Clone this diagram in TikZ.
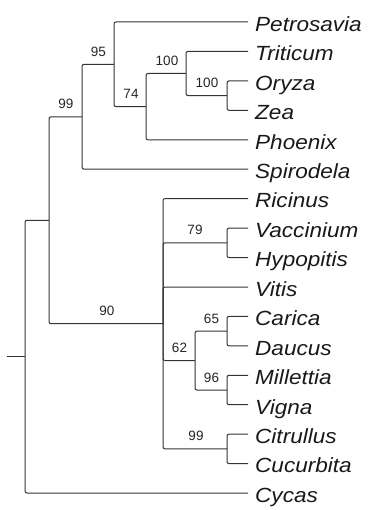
\documentclass[tikz,border=0pt]{standalone}
\usepackage{fontspec}
\setmainfont{Liberation Sans}
\newfontfamily\tipfont[FakeStretch=1.1]{Liberation Sans}
\begin{document}
\begin{tikzpicture}[x=1pt,y=-1pt,
  br/.style={draw=black!80, line width=1pt, rounded corners=2pt},
  tiplab/.style={anchor=west, inner xsep=7pt, inner ysep=0pt, text depth=5pt, text height=23.6pt,
     font=\tipfont\itshape\fontsize{20.5}{24}\selectfont, text=black!90},
  bs/.style={anchor=base, inner sep=0pt, font=\fontsize{13.5}{16}\selectfont, text=black!85}]
\useasboundingbox (0,0) rectangle (367,510);
% tips
\node[tiplab] (Pe) at (248,22) {Petrosavia};
\node[tiplab] (Tr) at (248,51.4) {Triticum};
\node[tiplab] (Or) at (248,80.9) {Oryza};
\node[tiplab] (Ze) at (248,110.3) {Zea};
\node[tiplab] (Ph) at (248,139.8) {Phoenix};
\node[tiplab] (Sp) at (248,169.2) {Spirodela};
\node[tiplab] (Ri) at (248,198.6) {Ricinus};
\node[tiplab] (Va) at (248,228.1) {Vaccinium};
\node[tiplab] (Hy) at (248,257.5) {Hypopitis};
\node[tiplab] (Vi) at (248,287) {Vitis};
\node[tiplab] (Ca) at (248,316.4) {Carica};
\node[tiplab] (Da) at (248,345.8) {Daucus};
\node[tiplab] (Mi) at (248,375.3) {Millettia};
\node[tiplab] (Vg) at (248,404.7) {Vigna};
\node[tiplab] (Ci) at (248,434.2) {Citrullus};
\node[tiplab] (Cu) at (248,463.6) {Cucurbita};
\node[tiplab] (Cy) at (248,493) {Cycas};
% internal nodes
\coordinate (F) at (227,95.6);
\coordinate (E) at (186,73.5);
\coordinate (D) at (146,106.6);
\coordinate (C) at (114,64.3);
\coordinate (B) at (82,116.8);
\coordinate (VH) at (227,242.8);
\coordinate (CD) at (227,331.1);
\coordinate (MV) at (227,390);
\coordinate (H) at (195,360.5);
\coordinate (CC) at (227,448.9);
\coordinate (G) at (163,323.7);
\coordinate (A) at (49,220.3);
\coordinate (R) at (25,356.6);
\coordinate (stub) at (7,356.6);
% branches
\draw[br] (stub) -- (R);
\draw[br] (R) |- (A);
\draw[br] (R) |- (Cy.west);
\draw[br] (A) |- (B);
\draw[br] (A) |- (G);
\draw[br] (B) |- (C);
\draw[br] (B) |- (Sp.west);
\draw[br] (C) |- (Pe.west);
\draw[br] (C) |- (D);
\draw[br] (D) |- (E);
\draw[br] (D) |- (Ph.west);
\draw[br] (E) |- (Tr.west);
\draw[br] (E) |- (F);
\draw[br] (F) |- (Or.west);
\draw[br] (F) |- (Ze.west);
\draw[br] (G) |- (Ri.west);
\draw[br] (G) |- (VH);
\draw[br] (G) |- (Vi.west);
\draw[br] (G) |- (H);
\draw[br] (G) |- (CC);
\draw[br] (VH) |- (Va.west);
\draw[br] (VH) |- (Hy.west);
\draw[br] (H) |- (CD);
\draw[br] (H) |- (MV);
\draw[br] (CD) |- (Ca.west);
\draw[br] (CD) |- (Da.west);
\draw[br] (MV) |- (Mi.west);
\draw[br] (MV) |- (Vg.west);
\draw[br] (CC) |- (Ci.west);
\draw[br] (CC) |- (Cu.west);
% support values
\node[bs] (sB) at (66,108.8) {99};
\node[bs] (sC) at (98.5,56.3) {95};
\node[bs] (sD) at (131,98.6) {74};
\node[bs] (sE) at (167,65.5) {100};
\node[bs] (sF) at (207,87.6) {100};
\node[bs] (sG) at (107,315.7) {90};
\node[bs] (sVH) at (195,234.8) {79};
\node[bs] (sH) at (179.5,352.5) {62};
\node[bs] (sCD) at (211.5,323.1) {65};
\node[bs] (sMV) at (211.5,382) {96};
\node[bs] (sCC) at (196,440.9) {99};
\end{tikzpicture}
\end{document}
